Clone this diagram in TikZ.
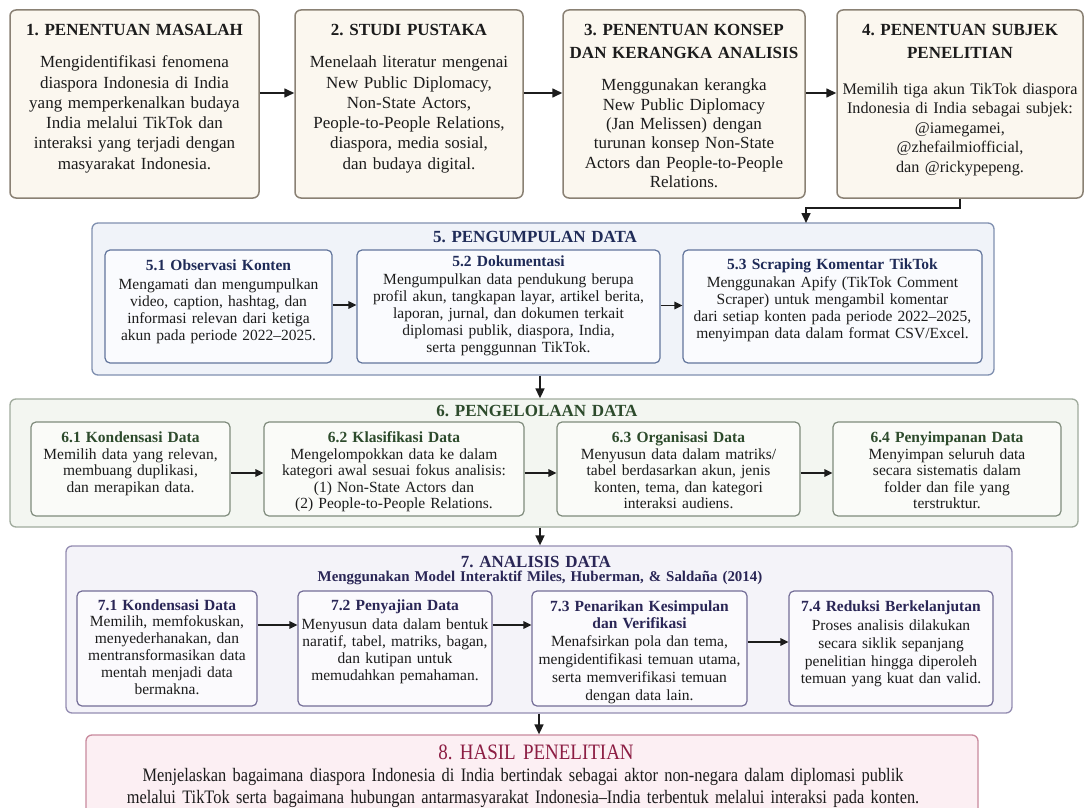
\documentclass[tikz,border=0pt]{standalone}
\usepackage{fontspec}
\setmainfont{Liberation Serif}
\newfontfamily\condfont[FakeStretch=0.862]{Liberation Serif}
\usetikzlibrary{arrows.meta}
\frenchspacing
\definecolor{topfill}{HTML}{FBF7EF}
\definecolor{topedge}{HTML}{8A8174}
\definecolor{ink}{HTML}{1C1C1C}
\definecolor{sAfill}{HTML}{F0F3F9}
\definecolor{sAedge}{HTML}{8090B0}
\definecolor{sAin}{HTML}{FAFBFE}
\definecolor{sAinedge}{HTML}{62759C}
\definecolor{sAink}{HTML}{1F2B58}
\definecolor{sBfill}{HTML}{F3F6F1}
\definecolor{sBedge}{HTML}{A0AB9D}
\definecolor{sBin}{HTML}{FAFBF8}
\definecolor{sBinedge}{HTML}{7F8B7C}
\definecolor{sBink}{HTML}{2D4B2C}
\definecolor{sCfill}{HTML}{F4F3F9}
\definecolor{sCedge}{HTML}{948DB2}
\definecolor{sCin}{HTML}{FBFAFD}
\definecolor{sCinedge}{HTML}{736D97}
\definecolor{sCink}{HTML}{2A2656}
\definecolor{sDfill}{HTML}{FCEFF3}
\definecolor{sDedge}{HTML}{C98A9D}
\definecolor{sDink}{HTML}{8C1D43}
\tikzset{
  topbox/.style={draw=topedge, fill=topfill, line width=1.5pt, rounded corners=6pt, inner sep=0pt},
  secA/.style={draw=sAedge, fill=sAfill, line width=1.3pt, rounded corners=6pt, inner sep=0pt},
  inA/.style={draw=sAinedge, fill=sAin, line width=1.2pt, rounded corners=5pt, inner sep=0pt},
  secB/.style={draw=sBedge, fill=sBfill, line width=1.3pt, rounded corners=6pt, inner sep=0pt},
  inB/.style={draw=sBinedge, fill=sBin, line width=1.2pt, rounded corners=5pt, inner sep=0pt},
  secC/.style={draw=sCedge, fill=sCfill, line width=1.3pt, rounded corners=6pt, inner sep=0pt},
  inC/.style={draw=sCinedge, fill=sCin, line width=1.2pt, rounded corners=5pt, inner sep=0pt},
  secD/.style={draw=sDedge, fill=sDfill, line width=1.3pt, rounded corners=6pt, inner sep=0pt},
  tx/.style={align=center, anchor=base, inner sep=0pt, text=ink},
  ttl/.style={tx, font=\fontsize{17}{22.6}\selectfont\bfseries},
  tbody/.style={tx, font=\fontsize{17}{20.2}\selectfont},
  ibody/.style={tx, font=\fontsize{15.5}{17}\selectfont},
  arr/.style={-{Triangle[length=10pt,width=9pt]}, line width=1.6pt, draw=ink},
  arrs/.style={-{Triangle[length=8pt,width=7.5pt]}, line width=1.3pt, draw=ink},
}
\begin{document}
\begin{tikzpicture}[x=1pt,y=-1pt]
\useasboundingbox[fill=white] (0,0) rectangle (1090,808);
% ---------- top row ----------
\node[topbox, minimum width=249pt, minimum height=188pt] (b1) at (134.5,104) {};
\node[topbox, minimum width=228pt, minimum height=188pt] (b2) at (409,104) {};
\node[topbox, minimum width=242pt, minimum height=188pt] (b3) at (684,104) {};
\node[topbox, minimum width=246pt, minimum height=188pt] (b4) at (960,104) {};
\node[ttl, text width=280pt] (b1t) at (134.5,35.5) {1. PENENTUAN MASALAH};
\node[tbody, text width=280pt] (b1b) at (134.5,68) {Mengidentifikasi fenomena\\ diaspora Indonesia di India\\ yang memperkenalkan budaya\\ India melalui TikTok dan\\ interaksi yang terjadi dengan\\ masyarakat Indonesia.};
\node[ttl, text width=280pt] (b2t) at (409,35.5) {2. STUDI PUSTAKA};
\node[tbody, text width=280pt] (b2b) at (409,68) {Menelaah literatur mengenai\\ New Public Diplomacy,\\ Non-State Actors,\\ People-to-People Relations,\\ diaspora, media sosial,\\ dan budaya digital.};
\node[ttl, text width=280pt] (b3t) at (684,35.5) {3. PENENTUAN KONSEP\\ DAN KERANGKA ANALISIS};
\node[tbody, text width=280pt, font=\fontsize{17}{19.3}\selectfont] (b3b) at (684,91) {Menggunakan kerangka\\ New Public Diplomacy\\ (Jan Melissen) dengan\\ turunan konsep Non-State\\ Actors dan People-to-People\\ Relations.};
\node[ttl, text width=280pt] (b4t) at (960,35.5) {4. PENENTUAN SUBJEK\\ PENELITIAN};
\node[tbody, text width=280pt, font=\fontsize{16.2}{19.4}\selectfont] (b4b) at (960,94.5) {Memilih tiga akun TikTok diaspora\\ Indonesia di India sebagai subjek:\\ @iamegamei,\\ @zhefailmiofficial,\\ dan @rickypepeng.};
\draw[arr] ([yshift=11pt]b1.east) -- ([yshift=11pt]b2.west);
\draw[arr] ([yshift=11pt]b2.east) -- ([yshift=11pt]b3.west);
\draw[arr] ([yshift=11pt]b3.east) -- ([yshift=11pt]b4.west);
% ---------- section 5 ----------
\node[secA, minimum width=902pt, minimum height=152pt] (s5) at (543,299) {};
\coordinate (j5) at (806,223);
\draw[arr] (b4.south) -- ++(0,9) -| (j5);
\node[ttl, text=sAink, text width=400pt] (s5t) at (535,242.5) {5. PENGUMPULAN DATA};
\node[inA, minimum width=227pt, minimum height=113pt] (p51) at (218.5,306.5) {};
\node[inA, minimum width=303pt, minimum height=113pt] (p52) at (508.5,306.5) {};
\node[inA, minimum width=299pt, minimum height=113pt] (p53) at (832.5,306.5) {};
\node[ibody, text width=260pt] (p51t) at (218.5,270) {{\bfseries\color{sAink}5.1 Observasi Konten}\\[2pt] Mengamati dan mengumpulkan\\ video, caption, hashtag, dan\\ informasi relevan dari ketiga\\ akun pada periode 2022–2025.};
\node[ibody, text width=330pt] (p52t) at (508.5,266) {{\bfseries\color{sAink}5.2 Dokumentasi}\\[1pt] Mengumpulkan data pendukung berupa\\ profil akun, tangkapan layar, artikel berita,\\ laporan, jurnal, dan dokumen terkait\\ diplomasi publik, diaspora, India,\\ serta penggunnan TikTok.};
\node[ibody, text width=330pt] (p53t) at (832.5,269) {{\bfseries\color{sAink}5.3 Scraping Komentar TikTok}\\[1.5pt] Menggunakan Apify (TikTok Comment\\ Scraper) untuk mengambil komentar\\ dari setiap konten pada periode 2022–2025,\\ menyimpan data dalam format CSV/Excel.};
\draw[arrs] ([yshift=1.5pt]p51.east) -- ([yshift=1.5pt]p52.west);
\draw[arrs] ([yshift=1pt]p52.east) -- ([yshift=1pt]p53.west);
% ---------- section 6 ----------
\node[secB, minimum width=1068pt, minimum height=128pt] (s6) at (544,463) {};
\draw[arr] ([xshift=-3pt]s5.south) -- ([xshift=-3pt]s5.south |- s6.north);
\node[ttl, text=sBink, text width=400pt] (s6t) at (537,416.5) {6. PENGELOLAAN DATA};
\node[inB, minimum width=199pt, minimum height=94pt] (p61) at (130.5,469) {};
\node[inB, minimum width=260pt, minimum height=94pt] (p62) at (394,469) {};
\node[inB, minimum width=243pt, minimum height=94pt] (p63) at (678.5,469) {};
\node[inB, minimum width=228pt, minimum height=94pt] (p64) at (947,469) {};
\node[ibody, text width=240pt, font=\fontsize{15.5}{16.3}\selectfont] (p61t) at (130.5,442.5) {{\bfseries\color{sBink}6.1 Kondensasi Data}\\[0.7pt] Memilih data yang relevan,\\ membuang duplikasi,\\ dan merapikan data.};
\node[ibody, text width=290pt, font=\fontsize{15.5}{16.3}\selectfont] (p62t) at (394,442.5) {{\bfseries\color{sBink}6.2 Klasifikasi Data}\\[0.7pt] Mengelompokkan data ke dalam\\ kategori awal sesuai fokus analisis:\\ (1) Non-State Actors dan\\ (2) People-to-People Relations.};
\node[ibody, text width=270pt, font=\fontsize{15.5}{16.3}\selectfont] (p63t) at (678.5,442.5) {{\bfseries\color{sBink}6.3 Organisasi Data}\\[0.7pt] Menyusun data dalam matriks/\\ tabel berdasarkan akun, jenis\\ konten, tema, dan kategori\\ interaksi audiens.};
\node[ibody, text width=260pt, font=\fontsize{15.5}{16.3}\selectfont] (p64t) at (947,442.5) {{\bfseries\color{sBink}6.4 Penyimpanan Data}\\[0.7pt] Menyimpan seluruh data\\ secara sistematis dalam\\ folder dan file yang\\ terstruktur.};
\draw[arrs] ([yshift=-4pt]p61.east) -- ([yshift=-4pt]p62.west);
\draw[arrs] ([yshift=-4pt]p62.east) -- ([yshift=-4pt]p63.west);
\draw[arrs] ([yshift=-4pt]p63.east) -- ([yshift=-4pt]p64.west);
% ---------- section 7 ----------
\node[secC, minimum width=946pt, minimum height=167pt] (s7) at (539,629.5) {};
\draw[arr] ([xshift=-4pt]s6.south) -- ([xshift=-4pt]s6.south |- s7.north);
\node[ttl, text=sCink, text width=400pt] (s7t) at (536,567.5) {7. ANALISIS DATA};
\node[tx, text=sCink, text width=600pt, font=\fontsize{14.9}{17}\selectfont\bfseries] (s7s) at (540,581.5) {Menggunakan Model Interaktif Miles, Huberman, \& Saldaña (2014)};
\node[inC, minimum width=180pt, minimum height=115pt] (p71) at (167,648.5) {};
\node[inC, minimum width=194pt, minimum height=115pt] (p72) at (395,648.5) {};
\node[inC, minimum width=215pt, minimum height=115pt] (p73) at (639.5,648.5) {};
\node[inC, minimum width=204pt, minimum height=115pt] (p74) at (891,648.5) {};
\node[ibody, text width=220pt] (p71t) at (167,610) {{\bfseries\color{sCink}7.1 Kondensasi Data}\\[-1pt] Memilih, memfokuskan,\\ menyederhanakan, dan\\ mentransformasikan data\\ mentah menjadi data\\ bermakna.};
\node[ibody, text width=230pt] (p72t) at (395,610) {{\bfseries\color{sCink}7.2 Penyajian Data}\\[2pt] Menyusun data dalam bentuk\\ naratif, tabel, matriks, bagan,\\ dan kutipan untuk\\ memudahkan pemahaman.};
\node[ibody, text width=250pt, font=\fontsize{15.5}{17.7}\selectfont] (p73t) at (639.5,611) {{\bfseries\color{sCink}7.3 Penarikan Kesimpulan\\ dan Verifikasi}\\[0.5pt] Menafsirkan pola dan tema,\\ mengidentifikasi temuan utama,\\ serta memverifikasi temuan\\ dengan data lain.};
\node[ibody, text width=240pt, font=\fontsize{15.5}{17.7}\selectfont] (p74t) at (891,611) {{\bfseries\color{sCink}7.4 Reduksi Berkelanjutan}\\[2pt] Proses analisis dilakukan\\ secara siklik sepanjang\\ penelitian hingga diperoleh\\ temuan yang kuat dan valid.};
\draw[arrs] ([yshift=23.5pt]p71.east) -- ([yshift=23.5pt]p72.west);
\draw[arrs] ([yshift=23.5pt]p72.east) -- ([yshift=23.5pt]p73.west);
\draw[arrs] ([yshift=6.5pt]p73.east) -- ([yshift=6.5pt]p74.west);
% ---------- section 8 ----------
\node[secD, minimum width=892pt, minimum height=95pt] (s8) at (532,782.5) {};
\draw[arr] (s7.south) -- (s7.south |- s8.north);
\node[tx, text=sDink, text width=500pt, font=\condfont\fontsize{22}{24}\selectfont] (s8t) at (536,759) {8. HASIL PENELITIAN};
\node[tx, text width=880pt, font=\condfont\fontsize{19}{22}\selectfont] (s8b) at (523,781) {Menjelaskan bagaimana diaspora Indonesia di India bertindak sebagai aktor non-negara dalam diplomasi publik\\ melalui TikTok serta bagaimana hubungan antarmasyarakat Indonesia–India terbentuk melalui interaksi pada konten.};
\end{tikzpicture}
\end{document}
